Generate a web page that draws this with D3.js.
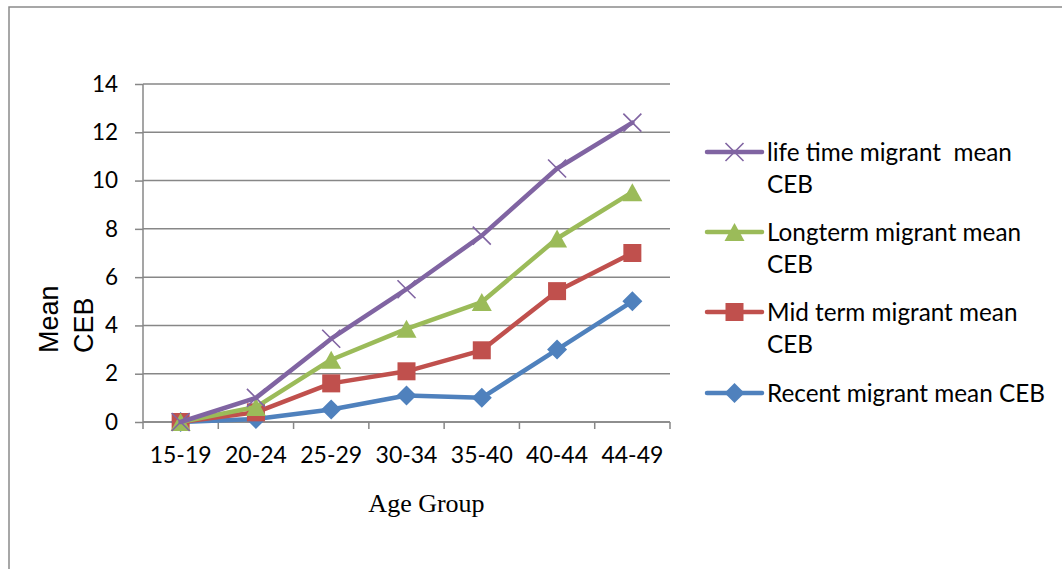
<!DOCTYPE html>
<html><head><meta charset="utf-8">
<script src="https://cdn.jsdelivr.net/npm/d3@7"></script>
<style>body{margin:0;background:#fff} svg{display:block}</style>
</head><body>
<svg id="c" width="1062" height="569"></svg>
<script>
const categories = ["15-19","20-24","25-29","30-34","35-40","40-44","44-49"];
const lifeTime = [0, 1.0, 3.45, 5.5, 7.72, 10.5, 12.4];
const longTerm = [0, 0.62, 2.58, 3.86, 4.97, 7.6, 9.52];
const midTerm  = [0, 0.4, 1.6, 2.1, 2.97, 5.42, 7.0];
const recent   = [0, 0.12, 0.52, 1.1, 1.0, 3.0, 5.0];
const yTicks = [0,2,4,6,8,10,12,14];
const legendLabels = [
  ["life time migrant  mean","CEB"],
  ["Longterm migrant mean","CEB"],
  ["Mid term migrant mean","CEB"],
  ["Recent migrant mean CEB"]
];
const yTitle = ["Mean","CEB"];
const xTitle = "Age Group";

const series = [
  {key:"life", values:lifeTime, color:"#8064A2", marker:"x", legend:0},
  {key:"long", values:longTerm, color:"#9BBB59", marker:"triangle", legend:1},
  {key:"mid", values:midTerm, color:"#C0504D", marker:"square", legend:2},
  {key:"recent", values:recent, color:"#4F81BD", marker:"diamond", legend:3}
];

const svg = d3.select("#c");
const tickFont = "Lato, 'Open Sans', sans-serif";
const gridColor = "#878787";

// frame
svg.append("path").attr("d","M9,569 L9,7 L1062,7").attr("fill","none").attr("stroke","#8a8a8a").attr("stroke-width",1.5);

const x = d3.scaleBand().domain(categories).range([143,670]).padding(0);
const y = d3.scaleLinear().domain([0,14]).range([422,84]);

// gridlines
svg.append("g").selectAll("line").data(yTicks).join("line")
  .attr("x1",143).attr("x2",670).attr("y1",d=>y(d)).attr("y2",d=>y(d))
  .attr("stroke",gridColor).attr("stroke-width",1.5);

// y axis
const yAxis = svg.append("g").attr("transform","translate(143,0)")
  .call(d3.axisLeft(y).tickValues(yTicks).tickSize(8).tickPadding(17).tickFormat(d3.format("d")));
yAxis.select(".domain").attr("stroke",gridColor).attr("stroke-width",1.5).attr("d","M0,"+y(0)+"V"+y(14));
yAxis.selectAll(".tick line").attr("stroke",gridColor).attr("stroke-width",1.5);
yAxis.selectAll(".tick text").attr("font-family",tickFont).attr("font-size",22.5).attr("fill","#000");

// x axis
const xAxis = svg.append("g").attr("transform","translate(0,"+y(0)+")")
  .call(d3.axisBottom(x).tickSize(0).tickPadding(25));
xAxis.select(".domain").remove();
xAxis.selectAll(".tick text").attr("font-family",tickFont).attr("font-size",23).attr("fill","#000");
const bounds = categories.map(c=>x(c)).concat([x(categories[categories.length-1])+x.step()]);
svg.append("g").selectAll("line").data(bounds).join("line")
  .attr("x1",d=>d).attr("x2",d=>d).attr("y1",y(0)).attr("y2",y(0)+7)
  .attr("stroke",gridColor).attr("stroke-width",1.5);
svg.append("line").attr("x1",143).attr("x2",670).attr("y1",y(0)).attr("y2",y(0))
  .attr("stroke",gridColor).attr("stroke-width",1.5);

// markers
function drawMarker(g, type, color, cx, cy){
  if(type==="x"){
    const s=9;
    g.append("path").attr("d",`M${cx-s},${cy-s}L${cx+s},${cy+s}M${cx-s},${cy+s}L${cx+s},${cy-s}`)
      .attr("stroke",color).attr("stroke-width",1.6).attr("fill","none");
  } else if(type==="triangle"){
    const w=10, h=9;
    g.append("path").attr("d",`M${cx},${cy-h}L${cx+w},${cy+h}L${cx-w},${cy+h}Z`).attr("fill",color);
  } else if(type==="square"){
    const s=9;
    g.append("rect").attr("x",cx-s).attr("y",cy-s).attr("width",2*s).attr("height",2*s).attr("fill",color);
  } else if(type==="diamond"){
    const s=10;
    g.append("path").attr("d",`M${cx},${cy-s}L${cx+s},${cy}L${cx},${cy+s}L${cx-s},${cy}Z`).attr("fill",color);
  }
}

const line = d3.line().x((d,i)=>x(categories[i])+x.bandwidth()/2).y(d=>y(d));
const drawOrder = [3,2,1,0];
drawOrder.forEach(si=>{
  const s = series[si];
  const g = svg.append("g");
  g.append("path").attr("d",line(s.values)).attr("fill","none").attr("stroke",s.color)
    .attr("stroke-width",4.5).attr("stroke-linejoin","round").attr("stroke-linecap","round");
  s.values.forEach((v,i)=>drawMarker(g,s.marker,s.color,x(categories[i])+x.bandwidth()/2,y(v)));
});

// legend
const legY = [152,232,312,393];
series.forEach((s,i)=>{
  const g = svg.append("g");
  const ly = legY[i];
  g.append("line").attr("x1",707).attr("x2",762).attr("y1",ly).attr("y2",ly)
    .attr("stroke",s.color).attr("stroke-width",4.5).attr("stroke-linecap","round");
  drawMarker(g,s.marker,s.color,734.5,ly);
  legendLabels[s.legend].forEach((t,j)=>{
    g.append("text").attr("x",767).attr("y",ly+9+j*32).text(t)
      .attr("font-family",tickFont).attr("font-size",24.3).attr("fill","#000")
      .style("white-space","pre");
  });
});

// y title
yTitle.forEach((t,j)=>{
  svg.append("text").attr("transform",`translate(${58+j*35},353) rotate(-90)`)
    .attr("font-family","'Liberation Sans', Arial, sans-serif").attr("font-size",27).attr("fill","#000").text(t);
});
// x title
svg.append("text").attr("x",426.5).attr("y",512).attr("text-anchor","middle")
  .attr("font-family","'Liberation Serif', 'Times New Roman', serif").attr("font-size",26).attr("fill","#000").text(xTitle);
</script>
</body></html>
